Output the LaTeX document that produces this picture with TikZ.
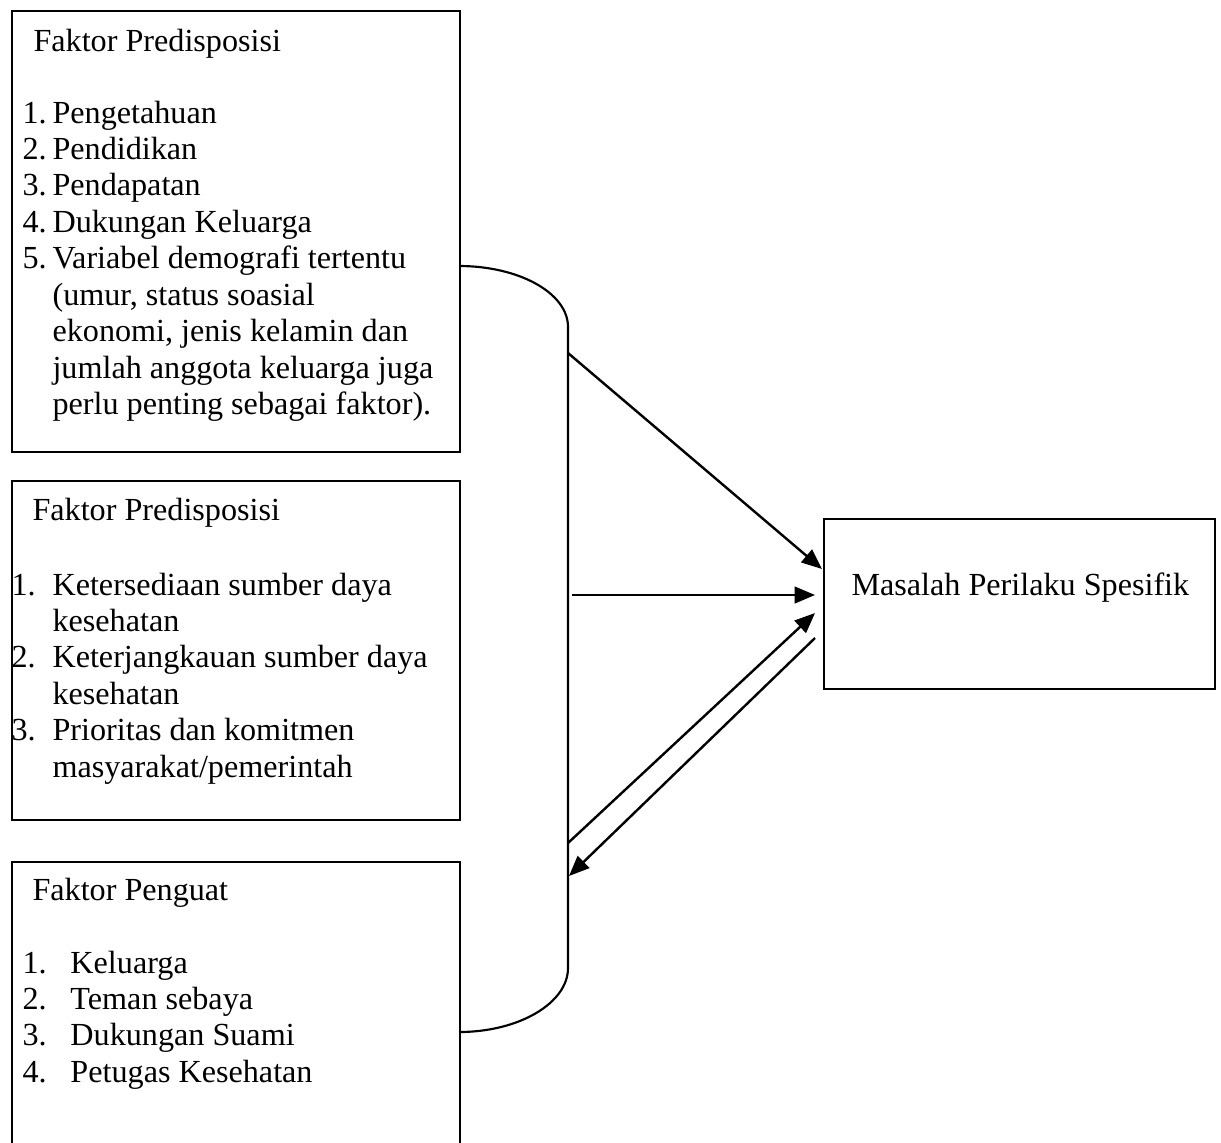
\documentclass[tikz,border=0pt]{standalone}
\usepackage{fontspec}
\setmainfont{Liberation Serif}
\usetikzlibrary{arrows.meta}

\begin{document}
\begin{tikzpicture}[x=0.3731pt, y=-0.3731pt,
box/.style = {draw, line width=0.8pt, inner sep=0pt, anchor=north west},
txt/.style = {anchor=base west, inner sep=0pt, font=\fontsize{12pt}{13.6pt}\selectfont},
arr/.style = {line width=0.9pt, -{Triangle[length=7.6pt, width=6.2pt]}}]
\clip (0,0) rectangle (1221,1142);
% the three factor boxes and the problem box
\node[box, minimum width=167.2pt, minimum height=164.5pt] (predA) at (11,10) {};
\node[box, minimum width=167.2pt, minimum height=126.5pt] (predB) at (11,480) {};
\node[box, minimum width=167.2pt, minimum height=115pt] (penguat) at (11,861) {};
\node[box, minimum width=145.9pt, minimum height=63.4pt] (masalah) at (823,518) {};
% texts
\node[txt] (predAtitle) at (33,51) {Faktor Predisposisi};
\node[txt] (predAlist) at (22,123) {\begin{tabular}[t]{@{}p{11.2pt}@{}l@{}}
1. & Pengetahuan\\
2. & Pendidikan\\
3. & Pendapatan\\
4. & Dukungan Keluarga\\
5. & Variabel demografi tertentu\\
   & (umur, status soasial\\
   & ekonomi, jenis kelamin dan\\
   & jumlah anggota keluarga juga\\
   & perlu penting sebagai faktor).
\end{tabular}};
\node[txt] (predBtitle) at (32,520) {Faktor Predisposisi};
\node[txt] (predBlist) at (11,595) {\begin{tabular}[t]{@{}p{15.3pt}@{}l@{}}
1. & Ketersediaan sumber daya\\
   & kesehatan\\
2. & Keterjangkauan sumber daya\\
   & kesehatan\\
3. & Prioritas dan komitmen\\
   & masyarakat/pemerintah
\end{tabular}};
\node[txt] (penguattitle) at (32,900) {Faktor Penguat};
\node[txt] (penguatlist) at (22,973) {\begin{tabular}[t]{@{}p{17.9pt}@{}l@{}}
1. & Keluarga\\
2. & Teman sebaya\\
3. & Dukungan Suami\\
4. & Petugas Kesehatan
\end{tabular}};
\node[txt] (masalahtext) at (851,595) {Masalah Perilaku Spesifik};
% bracket
\coordinate (brA) at (459,266);
\coordinate (brtop) at (568,327);
\coordinate (brbot) at (568,968);
\coordinate (brC) at (459,1032);
\draw[line width=0.8pt] (brA) .. controls (519,266) and (568,293) .. (brtop)
  -- (brbot) .. controls (568,1003) and (519,1032) .. (brC);
% arrows
\coordinate (s1) at (568,353);
\coordinate (t1) at (822,569);
\coordinate (s2) at (572,595);
\coordinate (t2) at (815,595);
\coordinate (s3) at (568,843);
\coordinate (t3) at (815,613);
\coordinate (s4) at (815,638);
\coordinate (t4) at (569,876);
\draw[arr] (s1) -- (t1);
\draw[arr] (s2) -- (t2);
\draw[arr] (s3) -- (t3);
\draw[arr] (s4) -- (t4);
\end{tikzpicture}
\end{document}
